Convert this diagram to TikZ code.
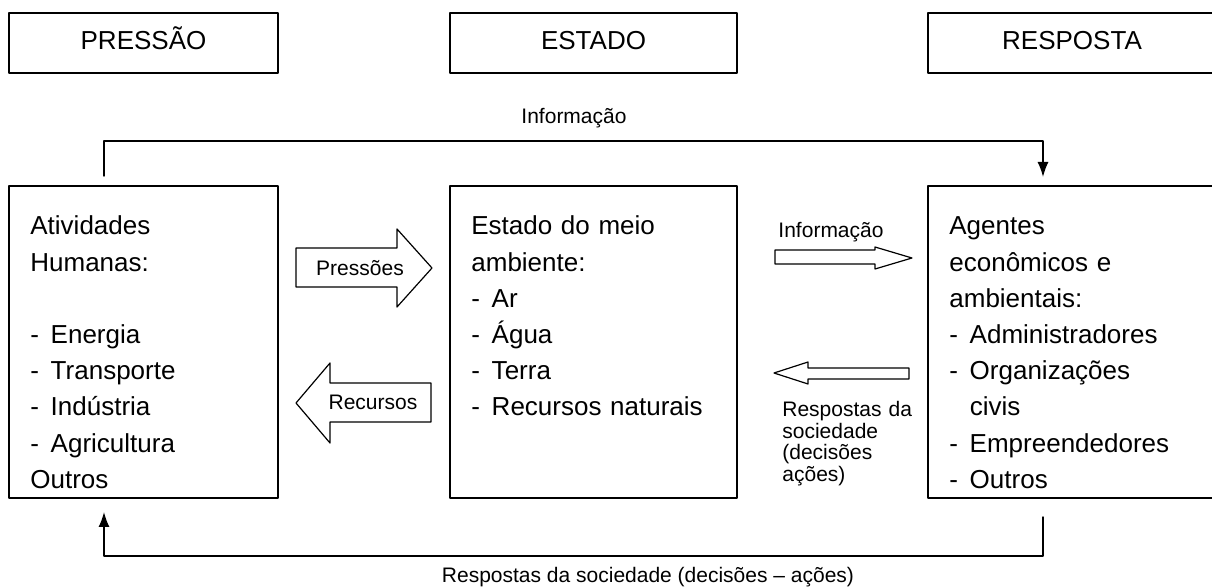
\documentclass[tikz,border=0pt]{standalone}
\usepackage{fontspec}
\setmainfont{Liberation Sans}
\usetikzlibrary{arrows.meta}
\newcommand{\hifen}{-\hspace{0.45em}}

\begin{document}
\begin{tikzpicture}[x=0.5pt, y=-0.5pt, line cap=round, line join=round,
    caixa/.style={draw=black, line width=0.9pt, inner sep=0pt},
    texto/.style={inner sep=0pt, anchor=base west, align=left, text width=136pt, font=\fontsize{13}{18.1}\selectfont},
    titulo/.style={inner sep=0pt, anchor=base, font=\fontsize{13}{15}\selectfont},
    rotulo/.style={inner sep=0pt, font=\fontsize{10.5}{10.75}\selectfont},
    seta/.style={draw=black, line width=0.6pt},
    conector/.style={draw=black, line width=0.7pt, -{Latex[length=7.5pt, width=5.5pt]}}]
    \useasboundingbox (0,0) rectangle (1212,588);
    \clip (0,0) rectangle (1212,588);

    %Titles
    \node[caixa, minimum width=134.5pt, minimum height=30pt] (pressao) at (143.5,43) {};
    \node[caixa, minimum width=143.5pt, minimum height=30pt] (estado) at (593.5,43) {};
    \node[caixa, minimum width=144pt, minimum height=30pt] (resposta) at (1072,43) {};
    \node[titulo] (tpressao) at (143.5,50) {PRESSÃO};
    \node[titulo] (testado) at (593.5,50) {ESTADO};
    \node[titulo] (tresposta) at (1072,50) {RESPOSTA};

    %Main boxes
    \node[caixa, minimum width=134.5pt, minimum height=156pt] (atividades) at (143.5,342) {};
    \node[caixa, minimum width=143.5pt, minimum height=156pt] (ambiente) at (593.5,342) {};
    \node[caixa, minimum width=144pt, minimum height=156pt] (agentes) at (1072,342) {};

    \node[texto] (tatividades) at (30,235) {Atividades\\ Humanas:\\[18.1pt]
        \hifen Energia\\ \hifen Transporte\\ \hifen Indústria\\ \hifen Agricultura\\ Outros};
    \node[texto] (tambiente) at (471,235) {Estado do meio\\ ambiente:\\
        \hifen Ar\\ \hifen Água\\ \hifen Terra\\ \hifen Recursos naturais};
    \node[texto] (tagentes) at (949,235) {Agentes\\ econômicos e\\ ambientais:\\
        \hifen Administradores\\ \hifen Organizações\\ \phantom{\hifen}civis\\ \hifen Empreendedores\\ \hifen Outros};

    %Block arrows
    \draw[seta] (296,248) -- (397,248) -- (397,229) -- (432,268) -- (397,307) -- (397,287) -- (296,287) -- cycle;
    \node[rotulo] (pressoes) at (360,268) {Pressões};
    \draw[seta] (431,383) -- (330,383) -- (330,363) -- (296,403) -- (330,443) -- (330,422) -- (431,422) -- cycle;
    \node[rotulo] (recursos) at (373,402) {Recursos};

    \draw[seta] (775,250) -- (875,250) -- (875,247) -- (912,258) -- (875,269) -- (875,264) -- (775,264) -- cycle;
    \node[rotulo] (infomeio) at (831,232) {Informação};
    \draw[seta] (909,368) -- (808,368) -- (808,362) -- (774,373) -- (808,384) -- (808,379) -- (909,379) -- cycle;
    \node[rotulo, anchor=base west, align=left, text width=70pt] (respmeio) at (782,417) {Respostas da\\ sociedade\\ (decisões\\ ações)};

    %Feedback loops
    \coordinate (infoini) at (104,176);
    \coordinate (infofim) at (1043,177);
    \draw[conector] (infoini) -- ++(0,-35) -| (infofim);
    \node[rotulo] (infotopo) at (574,118) {Informação};

    \coordinate (respini) at (1043,517);
    \coordinate (respfim) at (104,512);
    \draw[conector] (respini) -- ++(0,39) -| (respfim);
    \node[rotulo] (respbase) at (648,577) {Respostas da sociedade (decisões – ações)};
\end{tikzpicture}
\end{document}
